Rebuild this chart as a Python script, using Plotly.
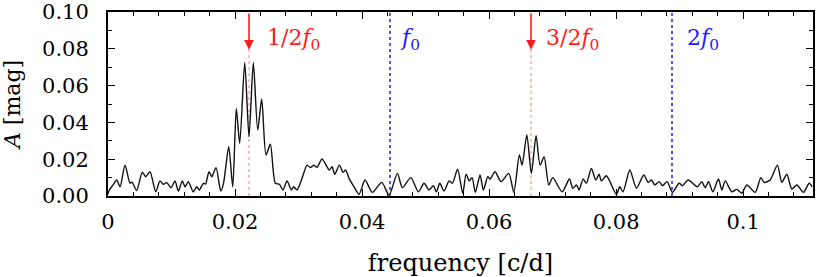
import plotly.graph_objects as go

# ---- data ----
freq = [0.0, 0.00016, 0.0008, 0.00137, 0.00189, 0.00268, 0.00346, 0.00378, 0.00452, 0.0054,
        0.00594, 0.00661, 0.00751, 0.00819, 0.00871, 0.00924, 0.00992, 0.01055, 0.01107, 0.0117,
        0.01213, 0.01265, 0.01343, 0.01397, 0.01438, 0.01501, 0.01535, 0.0159, 0.01633, 0.01701,
        0.01775, 0.01819, 0.01901, 0.01964, 0.0202, 0.02074, 0.02153, 0.0222, 0.02288, 0.02357,
        0.0242, 0.02488, 0.02556, 0.02635, 0.02698, 0.02756, 0.02819, 0.02887, 0.02924, 0.02976,
        0.03055, 0.03134, 0.03186, 0.0324, 0.03291, 0.0337, 0.03485, 0.03528, 0.0357, 0.03643,
        0.03701, 0.03743, 0.03795, 0.03874, 0.03953, 0.04047, 0.04162, 0.0431, 0.04425, 0.04556,
        0.04635, 0.04767, 0.04887, 0.04976, 0.05055, 0.05123, 0.0517, 0.05224, 0.05291, 0.0537,
        0.05422, 0.05504, 0.05586, 0.05638, 0.0569, 0.05732, 0.05784, 0.05858, 0.0591, 0.0598,
        0.06016, 0.06094, 0.06189, 0.0631, 0.06389, 0.06477, 0.0652, 0.06594, 0.06666, 0.0674,
        0.06803, 0.06866, 0.0694, 0.07003, 0.0715, 0.07265, 0.07318, 0.07375, 0.07417, 0.0748,
        0.07532, 0.07611, 0.0768, 0.07732, 0.07769, 0.07847, 0.08005, 0.08058, 0.0811, 0.08216,
        0.0832, 0.08436, 0.08504, 0.08556, 0.08609, 0.08677, 0.08729, 0.08803, 0.08887, 0.08992,
        0.09044, 0.09134, 0.0928, 0.09349, 0.09402, 0.09454, 0.09523, 0.09611, 0.09665, 0.09717,
        0.09822, 0.099, 0.09979, 0.10058, 0.10189, 0.10279, 0.10331, 0.10425, 0.1054, 0.10609,
        0.10688, 0.10767, 0.10846, 0.1095, 0.1104, 0.11087]
amp = [0.001, 0.003, 0.006, 0.0087, 0.005, 0.0168, 0.007, 0.0075, 0.003, 0.013,
       0.0105, 0.0132, 0.0023, 0.0082, 0.0063, 0.0073, 0.0045, 0.0082, 0.0027, 0.0082,
       0.005, 0.0078, 0.0023, 0.005, 0.0033, 0.0069, 0.0065, 0.0132, 0.0105, 0.0154,
       0.0027, 0.0069, 0.0268, 0.005, 0.0476, 0.0286, 0.0726, 0.0322, 0.0726, 0.0359,
       0.0527, 0.0223, 0.0281, 0.0069, 0.0064, 0.0033, 0.0082, 0.0033, 0.005, 0.0033,
       0.0096, 0.0168, 0.0154, 0.0168, 0.0156, 0.0201, 0.0141, 0.0159, 0.0118, 0.0168,
       0.0129, 0.0141, 0.0096, 0.005, 0.0009, 0.0087, 0.002, 0.0074, 0.0005, 0.0123,
       0.0045, 0.01, 0.0023, 0.0069, 0.0033, 0.0056, 0.0023, 0.0069, 0.0027, 0.0082,
       0.0069, 0.0145, 0.0015, 0.0118, 0.0082, 0.01, 0.002, 0.0114, 0.0033, 0.0105,
       0.0092, 0.0132, 0.0078, 0.0123, 0.002, 0.0223, 0.0168, 0.0332, 0.0123, 0.0328,
       0.0168, 0.0214, 0.006, 0.01, 0.0023, 0.0092, 0.0042, 0.006, 0.0033, 0.0092,
       0.0069, 0.015, 0.0087, 0.0118, 0.0082, 0.011, 0.0009, 0.005, 0.0023, 0.0141,
       0.0042, 0.0114, 0.0074, 0.0087, 0.006, 0.0078, 0.0056, 0.0078, 0.002, 0.0069,
       0.0056, 0.0087, 0.005, 0.0078, 0.0045, 0.0078, 0.0023, 0.0092, 0.0033, 0.0082,
       0.0023, 0.0036, 0.0015, 0.006, 0.002, 0.01, 0.0074, 0.0087, 0.0168, 0.0074,
       0.0118, 0.0038, 0.006, 0.002, 0.0069, 0.005]

f0 = 0.0444
harm_mult = [0.5, 1.0, 1.5, 2.0]
harm_labels = ["1/2<i>f</i><sub>0</sub>", "<i>f</i><sub>0</sub>",
               "3/2<i>f</i><sub>0</sub>", "2<i>f</i><sub>0</sub>"]
harm_arrow = [True, False, True, False]
label_gap = [0.0025, 0.0012, 0.0020, 0.0021]

x_tickvals = [0, 0.02, 0.04, 0.06, 0.08, 0.1]
x_ticktext = ["0", "0.02", "0.04", "0.06", "0.08", "0.1"]
y_tickvals = [0.0, 0.02, 0.04, 0.06, 0.08, 0.10]
y_ticktext = ["0.00", "0.02", "0.04", "0.06", "0.08", "0.10"]

FONT = "DejaVu Serif, Liberation Serif, serif"
RED = "#ff1a1a"
BLUE = "#1a1aff"

fig = go.Figure()
fig.add_trace(go.Scatter(x=freq, y=amp, mode="lines",
                         line=dict(color="#111111", width=1.4, shape="spline", smoothing=0.7),
                         showlegend=False, hoverinfo="skip"))

shapes = []
annotations = []
for m, lab, arr, gap in zip(harm_mult, harm_labels, harm_arrow, label_gap):
    fx = m * f0
    if arr:
        shapes.append(dict(type="line", xref="x", yref="y", x0=fx, x1=fx, y0=0, y1=0.08,
                           line=dict(color="rgba(255,0,0,0.35)", width=1.5, dash="dot"), layer="below"))
        annotations.append(dict(x=fx, y=0.0795, ax=fx, ay=0.1, xref="x", yref="y",
                                axref="x", ayref="y", text="", showarrow=True,
                                arrowhead=2, arrowsize=1.2, arrowwidth=1.6, arrowcolor=RED))
        col = RED
    else:
        shapes.append(dict(type="line", xref="x", yref="y", x0=fx, x1=fx, y0=0, y1=0.1,
                           line=dict(color=BLUE, width=1.5, dash="dot")))
        col = BLUE
    annotations.append(dict(x=fx + gap, y=0.085, xref="x", yref="y", text=lab,
                            showarrow=False, xanchor="left", yanchor="middle",
                            font=dict(family=FONT, size=22, color=col)))

fig.update_layout(
    width=830, height=277,
    margin=dict(l=108, r=17, t=12, b=81),
    paper_bgcolor="white", plot_bgcolor="white",
    font=dict(family=FONT, size=21, color="black"),
    shapes=shapes, annotations=annotations,
    xaxis=dict(range=[0, 0.111], tickvals=x_tickvals, ticktext=x_ticktext,
               ticks="inside", ticklen=7, tickwidth=1, tickcolor="black",
               minor=dict(dtick=0.004, ticks="inside", ticklen=4, tickcolor="black"),
               showgrid=False, zeroline=False, mirror="allticks", showline=True,
               linecolor="black", linewidth=2, automargin=False,
               tickfont=dict(size=21), ticklabelstandoff=6,
               title=dict(text="frequency [c/d]", font=dict(size=24), standoff=22)),
    yaxis=dict(range=[0, 0.1], tickvals=y_tickvals, ticktext=y_ticktext,
               ticks="inside", ticklen=7, tickwidth=1, tickcolor="black",
               minor=dict(dtick=0.01, ticks="inside", ticklen=4, tickcolor="black"),
               showgrid=False, zeroline=False, mirror="allticks", showline=True,
               linecolor="black", linewidth=2, automargin=False,
               tickfont=dict(size=21), ticklabelstandoff=13,
               title=dict(text="<i>A</i> [mag]", font=dict(size=22), standoff=22)),
)

fig.write_html("out.html", config={"displayModeBar": False},
               post_script="document.body.style.margin='0';document.body.style.overflow='hidden';")
